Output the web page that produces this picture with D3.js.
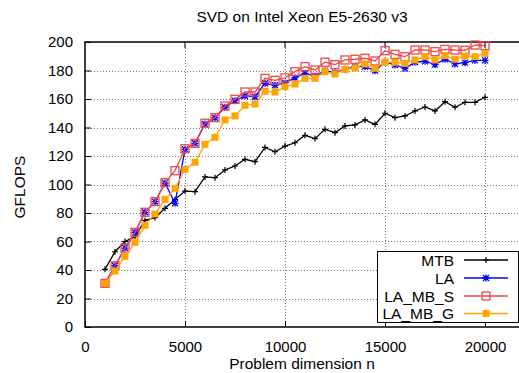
<!DOCTYPE html>
<html><head><meta charset="utf-8">
<script src="https://cdn.jsdelivr.net/npm/d3@7"></script>
<style>
html,body{margin:0;padding:0;background:#fff;overflow:hidden}
text{font-family:"Liberation Sans",Arial,Helvetica,sans-serif;fill:#000}
</style></head>
<body><svg id="c" width="519" height="373"></svg>
<script>
const sizes = [1000,1500,2000,2500,3000,3500,4000,4500,5000,5500,6000,6500,7000,7500,8000,8500,9000,9500,10000,10500,11000,11500,12000,12500,13000,13500,14000,14500,15000,15500,16000,16500,17000,17500,18000,18500,19000,19500,20000];
const MTB = [40.5,52.8,60,63.4,74.8,76.8,83.3,89.5,95.4,95,105.3,104.8,110.2,113,117.7,116,126,123,127,129.3,134.5,132.2,138.7,136.4,141.1,141.8,145.3,142.2,150,146.9,148.1,151.6,154.4,151.6,158.1,154.2,157.7,157.7,161.2];
const LA = [30.6,43,55.4,66.4,80.5,88,101,86.8,124.7,128.9,142.5,146.9,154.2,158.8,162.1,161.6,171,169.6,171.3,175,178,176.1,179.9,178.5,180.8,182.7,182.7,179.9,186,183.9,181.5,185.8,186.5,184.1,187.9,184.6,185.5,187.1,187.1];
const LA_MB_S = [30.6,43,55.4,66.4,80.5,88,101.3,109.7,125.1,128.9,143,146.9,155.1,159.8,164.9,164.9,174.5,173.1,174.8,179.2,182.7,180.4,185.8,184.1,187.4,187.9,188.6,186.7,193.9,191.3,189.7,194.4,194.4,193.2,194.8,194.4,194.2,197.9,197.4];
const LA_MB_G = [30.6,39.3,49.6,59.4,71.3,79.3,89.6,97.3,110.6,115.6,128.2,133.1,145.3,148.1,155.6,156.5,165.4,164.9,168.6,170.5,174.5,174.5,179.2,177.5,180.8,181.8,184.6,181.5,185.8,185.8,185,187.4,189.7,187.4,190.4,187.9,190.2,189.7,192];
const seriesNames = ["MTB","LA","LA_MB_S","LA_MB_G"];
const xTicks = [0,5000,10000,15000,20000];
const yTicks = [0,20,40,60,80,100,120,140,160,180,200];
const title = "SVD on Intel Xeon E5-2630 v3";
const xLabel = "Problem dimension n";
const yLabel = "GFLOPS";

const series = [
  {name:seriesNames[0], values:MTB, color:"#000000", marker:"plus"},
  {name:seriesNames[1], values:LA, color:"#0000ff", marker:"star"},
  {name:seriesNames[2], values:LA_MB_S, color:"#f04848", marker:"osquare"},
  {name:seriesNames[3], values:LA_MB_G, color:"#ffa500", marker:"fsquare"}
];

const L=85, R=519, T=42, B=327;
const x = d3.scaleLinear().domain([0,21700]).range([L,R]);
const y = d3.scaleLinear().domain([0,200]).range([B,T]);
const svg = d3.select("#c");

// grid
const g = svg.append("g");
g.selectAll(".gy").data(yTicks.filter(v=>v>0&&v<200)).enter().append("line")
  .attr("x1",L).attr("x2",R).attr("y1",d=>Math.round(y(d))+0.5).attr("y2",d=>Math.round(y(d))+0.5)
  .attr("stroke","#777").attr("stroke-width",1).attr("stroke-dasharray","1,2");
g.selectAll(".gx").data(xTicks.filter(v=>v>0)).enter().append("line")
  .attr("x1",d=>Math.round(x(d))+0.5).attr("x2",d=>Math.round(x(d))+0.5).attr("y1",T).attr("y2",B)
  .attr("stroke","#777").attr("stroke-width",1).attr("stroke-dasharray","1,2");

// axes
const yAxis = d3.axisLeft(y).tickValues(yTicks).tickSize(-6).tickPadding(12).tickFormat(d3.format("d"));
const xAxis = d3.axisBottom(x).tickValues(xTicks).tickSize(-6).tickPadding(14).tickFormat(d3.format("d"));
const ya = svg.append("g").attr("transform",`translate(${L},0)`).call(yAxis);
const xa = svg.append("g").attr("transform",`translate(0,${B})`).call(xAxis);
[ya,xa].forEach(a=>{a.select(".domain").remove(); a.selectAll("text").attr("font-size",15).attr("font-family","Liberation Sans, Arial, sans-serif");});
// top mirrored ticks
svg.append("g").selectAll("line").data(xTicks.filter(v=>v>0)).enter().append("line")
  .attr("x1",d=>x(d)).attr("x2",d=>x(d)).attr("y1",T).attr("y2",T+6).attr("stroke","#000");

// frame
svg.append("rect").attr("x",L).attr("y",T).attr("width",R-L+5).attr("height",B-T)
  .attr("fill","none").attr("stroke","#000").attr("stroke-width",1.5);

// line + markers
const line = d3.line().x((d,i)=>x(sizes[i])).y(d=>y(d));
function marker(sel, type, color){
  if(type==="plus"){
    sel.append("path").attr("d","M-3,0H3M0,-3V3").attr("stroke",color).attr("stroke-width",1.2).attr("fill","none");
  } else if(type==="star"){
    sel.append("path").attr("d","M-3.5,0H3.5M0,-3.5V3.5M-3,-3L3,3M-3,3L3,-3").attr("stroke",color).attr("stroke-width",1.3).attr("fill","none");
  } else if(type==="osquare"){
    sel.append("rect").attr("x",-4).attr("y",-4).attr("width",8).attr("height",8).attr("fill","none").attr("stroke",color).attr("stroke-width",1.3);
  } else {
    sel.append("rect").attr("x",-3.5).attr("y",-3.5).attr("width",7).attr("height",7).attr("fill",color).attr("stroke","none");
  }
}
series.forEach(s=>{
  const gs = svg.append("g");
  gs.append("path").datum(s.values).attr("d",line).attr("fill","none").attr("stroke",s.color).attr("stroke-width",1.3);
  gs.selectAll("g.m").data(s.values).enter().append("g").attr("class","m")
    .attr("transform",(d,i)=>`translate(${x(sizes[i])},${y(d)})`)
    .each(function(){ marker(d3.select(this), s.marker, s.color); });
});

// legend
const lg = svg.append("g");
lg.append("rect").attr("x",377.5).attr("y",251.5).attr("width",141).attr("height",71).attr("fill","#fff").attr("stroke","#000").attr("stroke-width",1);
const ly = [260,278,296,313.5];
series.forEach((s,i)=>{
  lg.append("text").attr("x",454).attr("y",ly[i]).attr("dy","0.36em").attr("text-anchor","end").attr("font-size",15.5).text(s.name);
  lg.append("line").attr("x1",464).attr("x2",508).attr("y1",ly[i]).attr("y2",ly[i]).attr("stroke",s.color).attr("stroke-width",1.3);
  const m = lg.append("g").attr("transform",`translate(486,${ly[i]})`);
  marker(m, s.marker, s.color);
});

// titles
svg.append("text").attr("x",302).attr("y",22).attr("text-anchor","middle").attr("font-size",15.5).text(title);
svg.append("text").attr("x",302).attr("y",369).attr("text-anchor","middle").attr("font-size",15.5).text(xLabel);
svg.append("text").attr("transform","translate(25,187) rotate(-90)").attr("text-anchor","middle").attr("font-size",15.5).text(yLabel);
</script></body></html>
